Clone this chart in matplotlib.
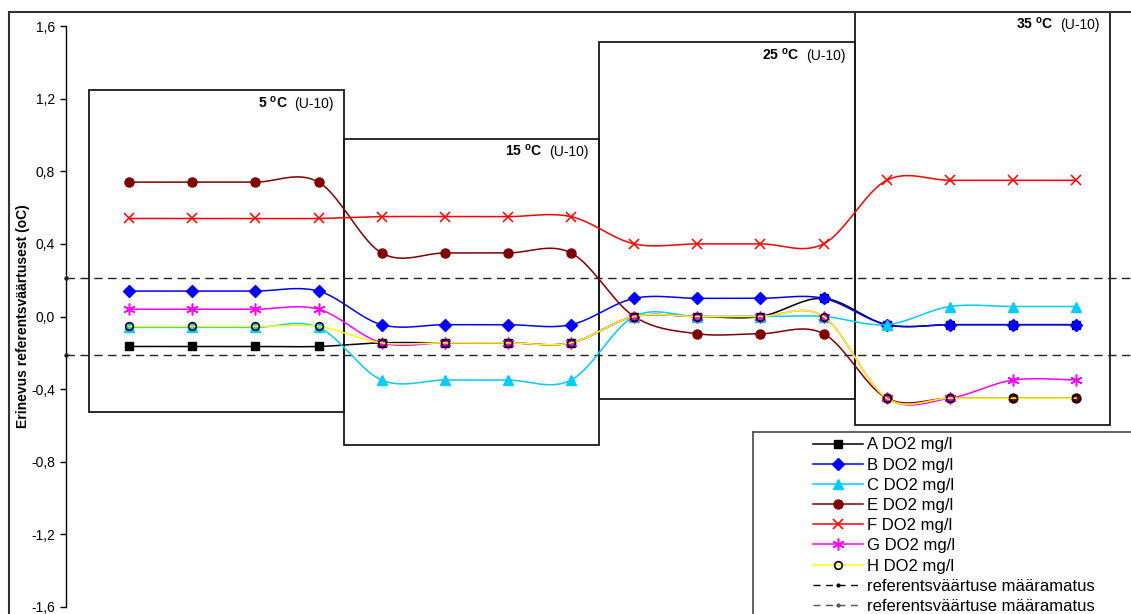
import numpy as np
import matplotlib
matplotlib.use("Agg")
import matplotlib.pyplot as plt
from matplotlib.lines import Line2D
from matplotlib.patches import Rectangle
from matplotlib.offsetbox import TextArea, HPacker, AnnotationBbox

plt.rcParams['font.family'] = ['Liberation Sans', 'DejaVu Sans']
plt.rcParams['mathtext.fontset'] = 'custom'
plt.rcParams['mathtext.rm'] = 'Liberation Sans'
plt.rcParams['mathtext.bf'] = 'Liberation Sans:bold'

# ---------------- data ----------------
x_pos = list(range(1, 17))
series_A = [-0.165, -0.165, -0.165, -0.165, -0.145, -0.145, -0.145, -0.145,
            0.0, 0.0, 0.0, 0.10, -0.045, -0.045, -0.045, -0.045]
series_B = [0.14, 0.14, 0.14, 0.14, -0.045, -0.045, -0.045, -0.045,
            0.10, 0.10, 0.10, 0.10, -0.045, -0.045, -0.045, -0.045]
series_C = [-0.06, -0.06, -0.06, -0.06, -0.35, -0.35, -0.35, -0.35,
            0.0, 0.0, 0.0, 0.0, -0.045, 0.055, 0.055, 0.055]
series_E = [0.74, 0.74, 0.74, 0.74, 0.35, 0.35, 0.35, 0.35,
            0.0, -0.095, -0.095, -0.095, -0.45, -0.45, -0.45, -0.45]
series_F = [0.54, 0.54, 0.54, 0.54, 0.55, 0.55, 0.55, 0.55,
            0.40, 0.40, 0.40, 0.40, 0.75, 0.75, 0.75, 0.75]
series_G = [0.04, 0.04, 0.04, 0.04, -0.145, -0.145, -0.145, -0.145,
            0.0, 0.0, 0.0, 0.0, -0.45, -0.45, -0.35, -0.35]
series_H = [-0.055, -0.055, -0.055, -0.055, -0.145, -0.145, -0.145, -0.145,
            0.0, 0.0, 0.0, 0.0, -0.45, -0.45, -0.45, -0.45]
series_labels = ["A DO2 mg/l", "B DO2 mg/l", "C DO2 mg/l", "E DO2 mg/l",
                 "F DO2 mg/l", "G DO2 mg/l", "H DO2 mg/l"]
ref_upper = 0.21
ref_lower = -0.21
ref_label = "referentsväärtuse määramatus"

# temperature boxes
box_left = [0.36, 4.40, 8.44, 12.50]
box_right = [4.40, 8.44, 12.50, 16.53]
box_bottom = [-0.525, -0.71, -0.455, -0.596]
box_top = [1.245, 0.978, 1.51, 1.678]
box_temps = ["5", "15", "25", "35"]

yticks = [1.6, 1.2, 0.8, 0.4, 0.0, -0.4, -0.8, -1.2, -1.6]

# ---------------- helpers ----------------
def excel_smooth(x, y, n=24):
    pts = np.column_stack([x, y]).astype(float)
    P = np.vstack([pts[0], pts, pts[-1]])
    out = []
    t = np.linspace(0, 1, n)[:, None]
    for i in range(len(pts) - 1):
        p0, p1, p2, p3 = P[i], P[i + 1], P[i + 2], P[i + 3]
        c1 = p1 + (p2 - p0) / 6.0
        c2 = p2 - (p3 - p1) / 6.0
        seg = ((1 - t) ** 3) * p1 + 3 * ((1 - t) ** 2) * t * c1 + 3 * (1 - t) * t ** 2 * c2 + t ** 3 * p2
        out.append(seg if i == 0 else seg[1:])
    return np.vstack(out)

W, H = 1131, 614
fig = plt.figure(figsize=(W / 100, H / 100), dpi=100)
ax_left = 66 / W
ax_bottom = (H - 607) / H
ax_top = (H - 26) / H
ax = fig.add_axes([ax_left, ax_bottom, 1 - ax_left, ax_top - ax_bottom])
xmax = (W - 66) / 63.13
ax.set_xlim(0, xmax)
ax.set_ylim(-1.6, 1.6)

# boxes
for l, r, b, t, temp in zip(box_left, box_right, box_bottom, box_top, box_temps):
    ax.add_patch(Rectangle((l, b), r - l, t - b, fill=False, edgecolor='#1a1a1a',
                           lw=1.3, clip_on=False, zorder=1))
    ta1 = TextArea(temp + r" $^{\mathbf{o}}$C",
                   textprops=dict(fontsize=10, fontweight='bold', color='black'))
    ta2 = TextArea("(U-10)", textprops=dict(fontsize=10, color='black'))
    pack = HPacker(children=[ta1, ta2], sep=5, pad=0, align='baseline')
    ab = AnnotationBbox(pack, (r, t), xybox=(-7, -3), xycoords='data',
                        boxcoords='offset points', box_alignment=(1, 1),
                        frameon=False, pad=0, annotation_clip=False, zorder=2)
    ax.add_artist(ab)

# reference lines
ax.plot([0, xmax], [ref_upper, ref_upper], color='#222222', lw=1.0,
        dashes=(6, 4), zorder=2)
ax.plot([0, xmax], [ref_lower, ref_lower], color='#222222', lw=1.0,
        dashes=(6, 4), zorder=2)
ax.plot([0, 0], [ref_upper, ref_lower], ls='none', marker='o', ms=2.2,
        color='#222222', clip_on=False, zorder=3)

styles = [
    dict(color='black', marker='s', ms=5.5, mfc='black', mec='black'),
    dict(color='#0000FF', marker='D', ms=6, mfc='#0000FF', mec='#0000FF'),
    dict(color='#00CCFF', marker='^', ms=7.5, mfc='#00CCFF', mec='#00CCFF'),
    dict(color='#800000', marker='o', ms=6.5, mfc='#800000', mec='#800000'),
    dict(color='#FF0000', marker='x', ms=7, mfc='#FF0000', mec='#FF0000', mew=1.1),
    dict(color='#FF00FF', marker=(6, 2, 0), ms=8.5, mfc='#FF00FF', mec='#FF00FF', mew=1.1),
    dict(color='#FFFF00', marker='o', ms=5.5, mfc='none', mec='black', mew=1.2),
]
all_series = [series_A, series_B, series_C, series_E, series_F, series_G, series_H]

handles = []
for i, (ys, st, lab) in enumerate(zip(all_series, styles, series_labels)):
    curve = excel_smooth(x_pos, ys)
    z = 4 + i
    ax.plot(curve[:, 0], curve[:, 1], color=st['color'], lw=1.1, zorder=z)
    ax.plot(x_pos, ys, ls='none', marker=st['marker'], ms=st['ms'],
            mfc=st['mfc'], mec=st['mec'], mew=st.get('mew', 1.0), zorder=z + 0.5)
    handles.append(Line2D([], [], color=st['color'], lw=1.1, marker=st['marker'],
                          ms=st['ms'], mfc=st['mfc'], mec=st['mec'],
                          mew=st.get('mew', 1.0)))

handles.append(Line2D([], [], color='black', lw=1.0, dashes=(5, 4), marker='o', ms=2))
handles.append(Line2D([], [], color='#555555', lw=1.0, dashes=(5, 4), marker='o', ms=2))
labels = series_labels + [ref_label, ref_label]

# axes styling
for s in ['top', 'right', 'bottom']:
    ax.spines[s].set_visible(False)
ax.spines['left'].set_color('black')
ax.spines['left'].set_linewidth(1.0)
ax.set_xticks([])
ax.set_yticks(yticks)
ax.set_yticklabels([f"{v:.1f}".replace('.', ',') for v in yticks], fontsize=10)
ax.tick_params(axis='y', direction='out', length=4, width=1.0, pad=4)
ax.set_ylabel("Erinevus referentsväärtusest (oC)", fontsize=10, fontweight='bold',
              labelpad=1)

# outer chart frame
fig.add_artist(Line2D([9 / W, 9 / W], [1 - 12 / H, 0], transform=fig.transFigure,
                      color='#333333', lw=1.5))
fig.add_artist(Line2D([9 / W, 1], [1 - 12 / H, 1 - 12 / H], transform=fig.transFigure,
                      color='#333333', lw=1.5))
# legend frame
fig.add_artist(Line2D([753 / W, 753 / W], [1 - 432 / H, 0], transform=fig.transFigure,
                      color='#555555', lw=1.3))
fig.add_artist(Line2D([753 / W, 1], [1 - 432 / H, 1 - 432 / H], transform=fig.transFigure,
                      color='#555555', lw=1.3))

leg = fig.legend(handles, labels, loc='upper left',
                 bbox_to_anchor=(813 / W, 1 - 437.5 / H), frameon=False,
                 fontsize=12, handlelength=3.0, handletextpad=0.25,
                 labelspacing=0.31, borderpad=0, borderaxespad=0, numpoints=1)

fig.savefig("out.png", dpi=100, facecolor='white')
